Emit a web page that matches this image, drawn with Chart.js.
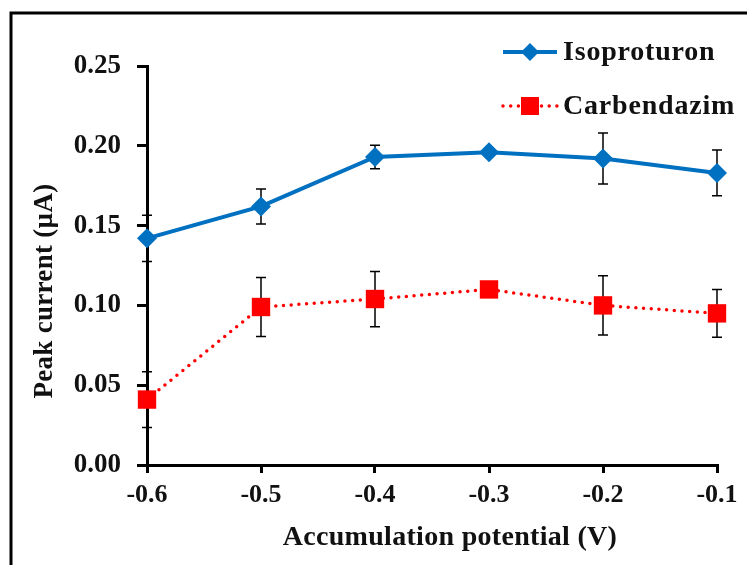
<!DOCTYPE html>
<html>
<head>
<meta charset="utf-8">
<script src="https://cdn.jsdelivr.net/npm/chart.js@4.4.1/dist/chart.umd.min.js"></script>
<style>
    html, body { margin: 0; padding: 0; background: #fff; }
    #wrap { width: 747px; height: 565px; position: relative; }
</style>
</head>
<body>
<div id="wrap"><canvas id="chart"></canvas></div>
<script>
const potentials = [-0.6, -0.5, -0.4, -0.3, -0.2, -0.1];
const isoproturon = [0.142, 0.162, 0.193, 0.196, 0.192, 0.183];
const isoproturonErr = [0.0145, 0.011, 0.0074, 0.002, 0.016, 0.0143];
const carbendazim = [0.041, 0.099, 0.104, 0.110, 0.100, 0.095];
const carbendazimErr = [0.0175, 0.0185, 0.0173, 0.002, 0.0185, 0.015];
const seriesNames = ['Isoproturon', 'Carbendazim'];
const xTitle = 'Accumulation potential (V)';
const yTitle = 'Peak current (µA)';

const serif = 'Liberation Serif';

function toPoints(values) {
    return values.map((v, i) => ({x: potentials[i], y: v}));
}

// black error bars, drawn under the lines and markers
const errorBars = {
    id: 'errorBars',
    beforeDatasetsDraw(chart) {
        const {ctx, scales: {x, y}} = chart;
        ctx.save();
        ctx.strokeStyle = '#000';
        ctx.lineWidth = 1.5;
        chart.data.datasets.forEach(ds => {
            ds.data.forEach((p, i) => {
                const err = ds.errors[i];
                const px = x.getPixelForValue(p.x);
                const top = y.getPixelForValue(p.y + err);
                const bot = y.getPixelForValue(p.y - err);
                ctx.beginPath();
                ctx.moveTo(px, top); ctx.lineTo(px, bot);
                ctx.moveTo(px - 5, top); ctx.lineTo(px + 5, top);
                ctx.moveTo(px - 5, bot); ctx.lineTo(px + 5, bot);
                ctx.stroke();
            });
        });
        ctx.restore();
    }
};

// outer frame (only left and top edges show) and the two axis titles,
// which sit a little off the plot centre in the original
const frame = {
    id: 'frame',
    beforeDraw(chart) {
        const ctx = chart.ctx;
        ctx.save();
        ctx.strokeStyle = '#000';
        ctx.lineWidth = 3;
        ctx.beginPath();
        ctx.moveTo(11, 565);
        ctx.lineTo(11, 13);
        ctx.lineTo(747, 13);
        ctx.stroke();

        ctx.fillStyle = '#111';
        ctx.textAlign = 'center';
        ctx.textBaseline = 'middle';
        ctx.letterSpacing = '0.3px';
        ctx.font = 'bold 28px "' + serif + '"';
        ctx.fillText(xTitle, 450, 538);
        ctx.translate(45, 291);
        ctx.rotate(-Math.PI / 2);
        ctx.font = 'bold 27px "' + serif + '"';
        ctx.fillText(yTitle, 0, 0);
        ctx.restore();
    }
};

// legend: line sample with marker, then name
const legendBox = {
    id: 'legendBox',
    afterDraw(chart) {
        const ctx = chart.ctx;
        const rows = [52, 106];
        ctx.save();
        chart.data.datasets.forEach((ds, i) => {
            const ly = rows[i];
            ctx.strokeStyle = ds.borderColor;
            ctx.lineWidth = ds.borderWidth;
            ctx.lineCap = ds.borderCapStyle || 'butt';
            ctx.setLineDash(ds.borderDash || []);
            ctx.beginPath();
            ctx.moveTo(503, ly);
            ctx.lineTo(557, ly);
            ctx.stroke();
            ctx.setLineDash([]);
            ctx.fillStyle = ds.backgroundColor;
            ctx.beginPath();
            if (ds.pointStyle === 'rectRot') {
                ctx.moveTo(530, ly - 9); ctx.lineTo(539, ly);
                ctx.lineTo(530, ly + 9); ctx.lineTo(521, ly);
                ctx.closePath();
            } else {
                ctx.rect(521, ly - 9, 18, 18);
            }
            ctx.fill();
            ctx.fillStyle = '#111';
            ctx.letterSpacing = '0.8px';
            ctx.font = 'bold 28px "' + serif + '"';
            ctx.textBaseline = 'middle';
            ctx.fillText(ds.label, 563, ly + 1);
            ctx.letterSpacing = '0px';
        });
        ctx.restore();
    }
};

new Chart(document.getElementById('chart'), {
    type: 'line',
    data: {
        datasets: [
            {
                label: seriesNames[0],
                data: toPoints(isoproturon),
                errors: isoproturonErr,
                borderColor: '#0070C0',
                backgroundColor: '#0070C0',
                borderWidth: 4,
                pointStyle: 'rectRot',
                pointRadius: 10,
                pointBorderWidth: 0,
                clip: false
            },
            {
                label: seriesNames[1],
                data: toPoints(carbendazim),
                errors: carbendazimErr,
                borderColor: '#FF0000',
                backgroundColor: '#FF0000',
                borderWidth: 3.5,
                borderDash: [0, 7.7],
                borderCapStyle: 'round',
                pointStyle: 'rect',
                pointRadius: 13,
                pointBorderWidth: 0,
                clip: false
            }
        ]
    },
    options: {
        responsive: true,
        maintainAspectRatio: false,
        animation: false,
        layout: {padding: {left: 0, top: 66, right: 30, bottom: 0}},
        plugins: {
            legend: {display: false},
            tooltip: {enabled: false}
        },
        scales: {
            x: {
                type: 'linear',
                min: -0.6,
                max: -0.1,
                afterFit(scale) { scale.height = 100; },
                ticks: {
                    stepSize: 0.1,
                    color: '#111',
                    padding: 7,
                    font: {family: serif, size: 26, weight: 'bold'},
                    callback: v => v.toFixed(1)
                },
                grid: {drawOnChartArea: false, color: '#000', lineWidth: 3, tickLength: 8},
                border: {color: '#000', width: 3},
                title: {display: false}
            },
            y: {
                min: 0,
                max: 0.25,
                afterFit(scale) { scale.width = 147; },
                ticks: {
                    stepSize: 0.05,
                    color: '#111',
                    padding: 16,
                    font: {family: serif, size: 27, weight: 'bold'},
                    callback: v => v.toFixed(2)
                },
                grid: {drawOnChartArea: false, color: '#000', lineWidth: 3, tickLength: 10},
                border: {color: '#000', width: 3},
                title: {display: false}
            }
        }
    },
    plugins: [frame, errorBars, legendBox]
});
</script>
</body>
</html>
